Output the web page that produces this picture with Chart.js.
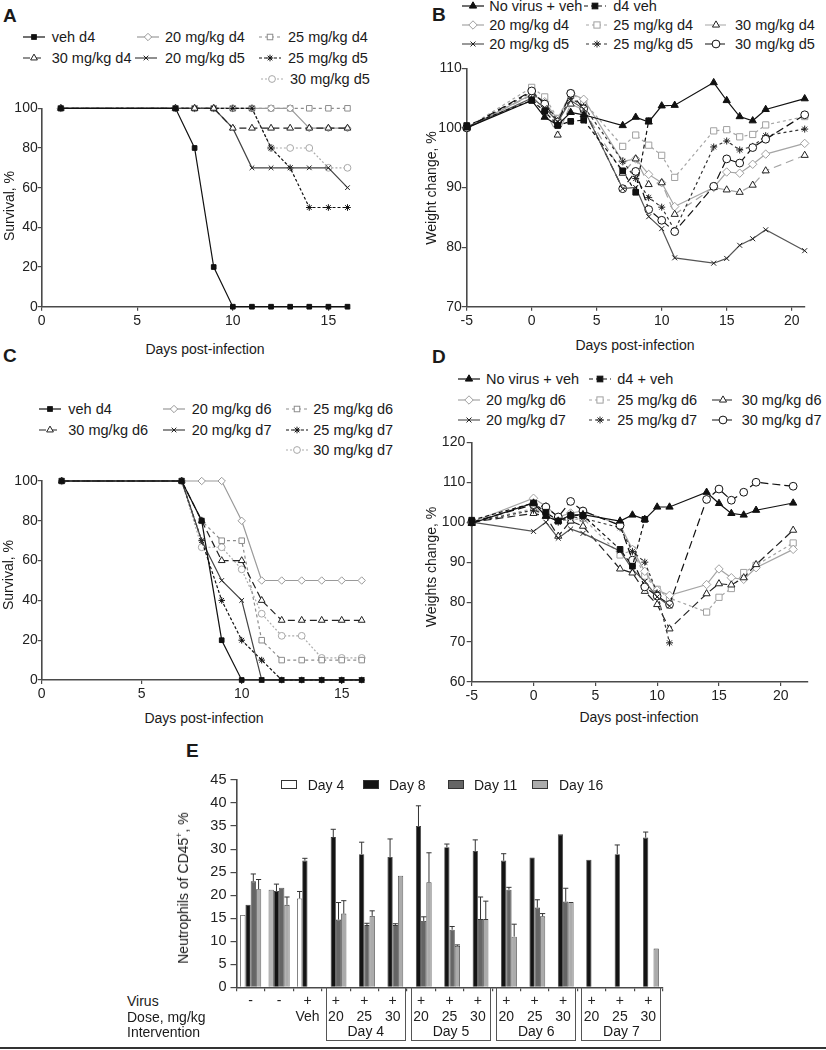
<!DOCTYPE html>
<html><head><meta charset="utf-8">
<script src="https://cdn.jsdelivr.net/npm/chart.js@4.4.1/dist/chart.umd.min.js"></script>
<style>
html,body{margin:0;padding:0;background:#fff}
body{width:826px;height:1050px;position:relative;overflow:hidden;font-family:"Liberation Sans",Arial,Helvetica,sans-serif;color:#1a1a1a}
.abs{position:absolute}
.lbl{position:absolute;white-space:nowrap;font-size:14.5px;line-height:16px;height:16px}
.txt{position:absolute;white-space:nowrap;font-size:14px;line-height:16px;height:16px}
.letter{position:absolute;font-weight:bold;font-size:19px;line-height:19px}
.ytitle{position:absolute;white-space:nowrap;font-size:14px;line-height:16px;transform:translate(-50%,-50%) rotate(-90deg)}
.xtitle{position:absolute;white-space:nowrap;font-size:14px;line-height:16px;transform:translate(-50%,-50%)}
.ibox{position:absolute;border:1.2px solid #555;border-top:none;box-sizing:border-box}
.ibox span{position:absolute;left:0;right:0;bottom:1px;text-align:center;font-size:14px;line-height:16px}
</style></head><body>
<script>
// ================= DATA =================
// Panel A – survival, intervention d4/d5
const daysA = [1,7,8,9,10,11,12,13,14,15,16];
const aVehD4 = [100,100,80,20,0,0,0,0,0,0,0];
const a20d4  = [100,100,100,100,100,100,100,100,90,90,90];
const a25d4  = [100,100,100,100,100,100,100,100,100,100,100];
const a30d4  = [100,100,100,100,90,90,90,90,90,90,90];
const a20d5  = [100,100,100,100,90,70,70,70,70,70,60];
const a25d5  = [100,100,100,100,100,100,80,70,50,50,50];
const a30d5  = [100,100,100,100,100,100,80,80,80,70,70];
const ticksAx = [0,5,10,15];
const ticksAy = [0,20,40,60,80,100];

// Panel B – weight change, intervention d4/d5
const daysB = [-5,0,1,2,3,4,7,8,9,10,11,14,15,16,17,18,21];
const bNoVirus = [100,104.6,101.8,100.5,102.6,102.2,100.4,101.8,101.0,103.7,103.8,107.6,104.6,101.9,101.2,103.1,104.9];
const bD4Veh   = [100.4,104.6,102.8,100.4,101.1,101.3,92.8,89.2,101.2];
const b20d4 = [100,105.6,104.4,101.4,105.8,104.8,94.4,94.8,92.2,90.8,86.8,90.0,92.6,92.4,93.9,95.6,97.4];
const b25d4 = [100,106.8,105.2,101.6,105.8,104.4,96.9,98.8,97.1,95.4,91.7,99.5,99.7,98.5,98.9,100.5,101.9];
const b30d4 = [100,105.5,103.0,98.8,104.0,103.0,92.4,94.8,90.5,90.8,85.5,90.0,89.6,89.2,90.4,92.8,95.4];
const b20d5 = [100,105.0,103.4,101.0,104.6,103.2,89.8,90.0,85.1,83.1,78.2,77.3,78.1,80.3,81.4,82.9,79.4];
const b25d5 = [100,106.0,104.2,101.2,105.0,103.6,94.4,91.5,88.3,86.7,82.8,96.8,97.8,96.3,96.9,98.7,99.8];
const b30d5 = [100,106.2,104.0,101.0,105.8,103.2,89.8,92.7,86.3,84.5,82.6,90.2,94.8,94.1,96.7,98.1,102.2];
const ticksBx = [-5,0,5,10,15,20];
const ticksBy = [70,80,90,100,110];

// Panel C – survival, intervention d6/d7
const daysC = [1,7,8,9,10,11,12,13,14,15,16];
const cVehD4 = [100,100,80,20,0,0,0,0,0,0,0];
const c20d6  = [100,100,100,100,80,50,50,50,50,50,50];
const c25d6  = [100,100,80,70,70,20,10,10,10,10,10];
const c30d6  = [100,100,80,60,60,40,30,30,30,30,30];
const c20d7  = [100,100,70,50,40,0,0,0,0,0,0];
const c25d7  = [100,100,70,40,20,10,0,0,0,0,0];
const c30d7  = [100,100,66.7,66.7,55.6,33.3,22.2,22.2,11.1,11.1,11.1];
const ticksCx = [0,5,10,15];
const ticksCy = [0,20,40,60,80,100];

// Panel D – weight change, intervention d6/d7
const daysD = [-5,0,1,2,3,4,7,8,9,10,11,14,15,16,17,18,21];
const dNoVirus = [99.7,104.8,101.5,100.3,101.8,101.9,100.3,101.8,100.7,103.8,103.8,107.5,104.7,102.2,101.8,103.0,104.8];
const dD4Veh   = [100.5,104.8,102.5,100.3,101.7,101.7,93.2,89.0,100.7];
const d20d6 = [100,106.0,104.0,101.3,102.3,102.8,99.3,93.2,87.7,83.0,81.7,84.4,88.3,86.1,85.7,88.6,93.2];
const d25d6 = [100,103.4,102.2,100.4,100.5,101.0,91.8,93.0,86.5,83.2,81.0,77.5,81.2,83.4,87.4,89.2,94.8];
const d30d6 = [100,102.2,101.5,96.5,100.3,99.0,88.3,87.3,82.7,79.4,73.3,82.1,84.6,84.3,86.1,89.4,98.0];
const d20d7 = [100,97.7,100.0,96.0,98.3,97.2,92.8,88.2,85.2,81.3,79.0];
const d25d7 = [100,103.0,102.0,100.0,101.4,101.0,98.6,92.7,90.0,82.3,69.8];
const d30d7 = [100,104.4,103.8,101.3,105.2,102.8,99.2,90.5,83.8,81.5,79.4,105.7,108.3,105.5,107.5,110.0,109.0];
const ticksDx = [-5,0,5,10,15,20];
const ticksDy = [60,70,80,90,100,110,120];

// Panel E – neutrophils
const eVirus = ['-','-','+','+','+','+','+','+','+','+','+','+','+','+','+'];
const eDose  = ['','','Veh','20','25','30','20','25','30','20','25','30','20','25','30'];
const eDay4  = [15.7,21.2,19.3,null,null,null,null,null,null,null,null,null,null,null,null];
const eDay8  = [17.9,20.9,27.5,32.6,28.9,28.3,35.0,30.4,29.6,27.5,28.2,33.2,27.7,28.9,32.5];
const eDay11 = [23.0,21.6,null,14.7,13.5,13.5,14.4,12.5,14.8,21.2,17.3,18.6,null,null,null];
const eDay16 = [21.3,17.9,null,16.0,15.5,24.2,22.8,9.0,14.8,11.0,15.4,18.5,null,null,8.4];
const eDay4Err  = [0,0,1.5,0,0,0,0,0,0,0,0,0,0,0,0];
const eDay8Err  = [0,1.5,0.5,1.7,2.6,3.9,4.4,0.7,2.4,1.5,0,0,0,2.0,1.2];
const eDay11Err = [1.6,0,0,3.7,0.4,0.3,0.9,0.7,4.8,0.5,1.7,2.9,0,0,0];
const eDay16Err = [2.1,1.7,0,2.8,1.1,0,6.4,0.2,3.9,2.7,0.6,0,0,0,0];
const eInterv = [['Day 4',3,5],['Day 5',6,8],['Day 6',9,11],['Day 7',12,14]];

// ================= STYLES =================
const AX = '#4a4a4a';
Chart.defaults.font.family = '"Liberation Sans", Arial, Helvetica, sans-serif';
Chart.defaults.color = '#222';

const S = {
  vehSq:   {c:'#111', dash:[],    m:'rect',     r:3.3, f:'#111', mc:'#111'},
  g20:     {c:'#9a9a9a', dash:[], m:'rectRot',  r:3.7, f:'#fff', mc:'#999'},
  g25:     {c:'#8c8c8c', dash:[3,3], m:'rect',  r:3.9, f:'#fff', mc:'#8c8c8c'},
  k30tri:  {c:'#222', dash:[7,4], m:'triangle', r:3.9, f:'#fff', mc:'#222'},
  x20:     {c:'#444', dash:[],    m:'crossRot', r:3.3, f:'#fff', mc:'#222'},
  st25:    {c:'#111', dash:[3,2], m:'star',     r:3.3, f:'#fff', mc:'#111'},
  lc30:    {c:'#ababab', dash:[2,2], m:'circle',r:3.4, f:'#fff', mc:'#a8a8a8'},
  noVir:   {c:'#111', dash:[],    m:'triangle', r:4.2, f:'#111', mc:'#111'},
  d4Sq:    {c:'#111', dash:[4,3], m:'rect',     r:4.0, f:'#111', mc:'#111'},
  bg20:    {c:'#a5a5a5', dash:[], m:'rectRot',  r:4.2, f:'#fff', mc:'#a0a0a0'},
  bg25:    {c:'#a5a5a5', dash:[3,3], m:'rect',  r:4.4, f:'#fff', mc:'#a0a0a0'},
  bg30tri: {c:'#a5a5a5', dash:[8,5], m:'triangle', r:4.1, f:'#fff', mc:'#222'},
  bx20:    {c:'#555', dash:[],    m:'crossRot', r:3.5, f:'#fff', mc:'#222'},
  bst25:   {c:'#333', dash:[3,3], m:'star',     r:3.5, f:'#fff', mc:'#222'},
  bc30:    {c:'#111', dash:[8,4], m:'circle',   r:3.9, f:'#fff', mc:'#111'},
  dk30tri: {c:'#222', dash:[8,4], m:'triangle', r:4.1, f:'#fff', mc:'#222'}
};

function place(el,l,t,w,h){el.style.left=l+'px';el.style.top=t+'px';if(w!=null)el.style.width=w+'px';if(h!=null)el.style.height=h+'px';}
function addText(cls,txt,l,t,html){const d=document.createElement('div');d.className=cls;if(html)d.innerHTML=txt;else d.textContent=txt;place(d,l,t);document.body.appendChild(d);return d;}

function ds(label,days,vals,st){
  return {label, data:vals.map((v,i)=>({x:days[i],y:v})), borderColor:st.c, borderDash:st.dash, borderWidth:1.2,
    pointStyle:st.m, pointRadius:st.r, pointBackgroundColor:st.f, pointBorderColor:st.mc, pointBorderWidth:1,
    tension:0, fill:false, clip:false};
}

function lineChart(box,xr,yr,sets){
  const wrap=document.createElement('div');wrap.className='abs';place(wrap,box.l,box.t,box.w,box.h);
  const cv=document.createElement('canvas');wrap.appendChild(cv);document.body.appendChild(wrap);
  return new Chart(cv,{type:'line',data:{datasets:sets},options:{
    responsive:true,maintainAspectRatio:false,animation:false,events:[],
    layout:{padding:{left:0,top:box.pt,right:box.pr,bottom:0}},
    plugins:{legend:{display:false},tooltip:{enabled:false}},
    scales:{
      x:{type:'linear',min:xr.min,max:xr.max,
        afterBuildTicks:s=>{s.ticks=xr.ticks.map(v=>({value:v}));},
        afterFit:s=>{s.height=box.xh;},
        grid:{drawOnChartArea:false,drawTicks:true,tickLength:4,color:AX,lineWidth:1.2},
        border:{display:true,color:AX,width:1.6},
        ticks:{font:{size:14},color:'#222',padding:2,maxRotation:0,autoSkip:false}},
      y:{type:'linear',min:yr.min,max:yr.max,
        afterBuildTicks:s=>{s.ticks=yr.ticks.map(v=>({value:v}));},
        afterFit:s=>{s.width=box.yw;},
        grid:{drawOnChartArea:false,drawTicks:true,tickLength:box.tl,color:AX,lineWidth:1.2},
        border:{display:true,color:AX,width:1.6},
        ticks:{font:{size:14},color:'#222',padding:box.tp,autoSkip:false}}
    }}});
}

function marker(m,cx,cy,r,mc,f){
  const a=`stroke="${mc}" stroke-width="1" fill="${f}"`;
  if(m==='rect'){const s=r*Math.SQRT1_2;return `<rect x="${cx-s}" y="${cy-s}" width="${2*s}" height="${2*s}" ${a}/>`;}
  if(m==='rectRot')return `<polygon points="${cx},${cy-r} ${cx+r},${cy} ${cx},${cy+r} ${cx-r},${cy}" ${a}/>`;
  if(m==='triangle')return `<polygon points="${cx},${cy-r} ${cx+r*0.866},${cy+r*0.5} ${cx-r*0.866},${cy+r*0.5}" ${a}/>`;
  if(m==='circle')return `<circle cx="${cx}" cy="${cy}" r="${r}" ${a}/>`;
  const d=r*Math.SQRT1_2;
  let p=`M${cx-d},${cy-d}L${cx+d},${cy+d}M${cx-d},${cy+d}L${cx+d},${cy-d}`;
  if(m==='star')p+=`M${cx-r},${cy}L${cx+r},${cy}M${cx},${cy-r}L${cx},${cy+r}`;
  return `<path d="${p}" stroke="${mc}" stroke-width="1" fill="none"/>`;
}
function legend(items){
  items.forEach(it=>{
    const st=it.s, w=it.w||22;
    const da=st.dash.length?st.dash.join(','):'none';
    document.body.insertAdjacentHTML('beforeend',
      `<svg class="abs" style="left:${it.x-3}px;top:${it.y-8}px" width="${w+6}" height="16"><line x1="3" y1="8" x2="${3+w}" y2="8" stroke="${st.c}" stroke-width="1.2" stroke-dasharray="${da}"/>${marker(st.m,3+w/2,8,st.r,st.mc,st.f)}</svg>`);
    addText('lbl',it.t,it.tx,it.y-8);
  });
}

// ================= PANEL A =================
lineChart({l:0,t:90,w:362,h:240,yw:41.7,pt:18.3,pr:14.5,xh:23.3,tl:4,tp:0},
  {min:0,max:16,ticks:ticksAx},{min:0,max:100,ticks:ticksAy},[
  ds('veh d4',daysA,aVehD4,S.vehSq),
  ds('30 mg/kg d4',daysA,a30d4,S.k30tri),
  ds('20 mg/kg d5',daysA,a20d5,S.x20),
  ds('25 mg/kg d5',daysA,a25d5,S.st25),
  ds('20 mg/kg d4',daysA,a20d4,S.g20),
  ds('25 mg/kg d4',daysA,a25d4,S.g25),
  ds('30 mg/kg d5',daysA,a30d5,S.lc30)]);
legend([
  {t:'veh d4',s:S.vehSq,x:23,tx:51.7,y:37},
  {t:'20 mg/kg d4',s:S.g20,x:137,tx:165,y:37},
  {t:'25 mg/kg d4',s:S.g25,x:259,tx:288,y:37},
  {t:'30 mg/kg d4',s:S.k30tri,x:23,tx:51.7,y:58},
  {t:'20 mg/kg d5',s:S.x20,x:135,tx:165,y:58},
  {t:'25 mg/kg d5',s:S.st25,x:259,tx:288,y:58},
  {t:'30 mg/kg d5',s:S.lc30,x:261,tx:290,y:79}]);

// ================= PANEL B =================
lineChart({l:420,t:55,w:406,h:275,yw:46.7,pt:13.3,pr:21.3,xh:23.3,tl:5,tp:0},
  {min:-5,max:21,ticks:ticksBx},{min:70,max:110,ticks:ticksBy},[
  ds('No virus + veh',daysB,bNoVirus,S.noVir),
  ds('d4 veh',daysB,bD4Veh,S.d4Sq),
  ds('20 mg/kg d5',daysB,b20d5,S.bx20),
  ds('30 mg/kg d5',daysB,b30d5,S.bc30),
  ds('25 mg/kg d5',daysB,b25d5,S.bst25),
  ds('30 mg/kg d4',daysB,b30d4,S.bg30tri),
  ds('20 mg/kg d4',daysB,b20d4,S.bg20),
  ds('25 mg/kg d4',daysB,b25d4,S.bg25)]);
legend([
  {t:'No virus + veh',s:S.noVir,x:462,tx:489.3,y:6},
  {t:'d4 veh',s:S.d4Sq,x:584,tx:613.3,y:6},
  {t:'20 mg/kg d4',s:S.bg20,x:462,tx:489.3,y:24.5},
  {t:'25 mg/kg d4',s:S.bg25,x:586,tx:613.3,y:24.5},
  {t:'30 mg/kg d4',s:S.bg30tri,x:705,tx:735,y:24.5},
  {t:'20 mg/kg d5',s:S.bx20,x:462,tx:489.3,y:43.5},
  {t:'25 mg/kg d5',s:S.bst25,x:586,tx:613.3,y:43.5},
  {t:'30 mg/kg d5',s:S.bc30,x:705,tx:735,y:43.5}]);

// ================= PANEL C =================
lineChart({l:0,t:465,w:375,h:240,yw:41.7,pt:16,pr:13.3,xh:25,tl:4,tp:0},
  {min:0,max:16,ticks:ticksCx},{min:0,max:100,ticks:ticksCy},[
  ds('veh d4',daysC,cVehD4,S.vehSq),
  ds('30 mg/kg d6',daysC,c30d6,S.k30tri),
  ds('20 mg/kg d7',daysC,c20d7,S.x20),
  ds('25 mg/kg d7',daysC,c25d7,S.st25),
  ds('20 mg/kg d6',daysC,c20d6,S.g20),
  ds('25 mg/kg d6',daysC,c25d6,S.g25),
  ds('30 mg/kg d7',daysC,c30d7,S.lc30)]);
legend([
  {t:'veh d4',s:S.vehSq,x:39.3,tx:68.3,y:409},
  {t:'20 mg/kg d6',s:S.g20,x:163,tx:191.7,y:409},
  {t:'25 mg/kg d6',s:S.g25,x:286,tx:313.3,y:409},
  {t:'30 mg/kg d6',s:S.k30tri,x:39.3,tx:68.3,y:430},
  {t:'20 mg/kg d7',s:S.x20,x:163,tx:191.7,y:430},
  {t:'25 mg/kg d7',s:S.st25,x:286,tx:313.3,y:430},
  {t:'30 mg/kg d7',s:S.lc30,x:286,tx:313.3,y:450}]);

// ================= PANEL D =================
lineChart({l:420,t:430,w:406,h:275,yw:51.7,pt:12.3,pr:18,xh:23,tl:5,tp:1.5},
  {min:-5,max:22.2,ticks:ticksDx},{min:60,max:120,ticks:ticksDy},[
  ds('No virus + veh',daysD,dNoVirus,S.noVir),
  ds('d4 + veh',daysD,dD4Veh,S.d4Sq),
  ds('20 mg/kg d7',daysD,d20d7,S.bx20),
  ds('30 mg/kg d7',daysD,d30d7,S.bc30),
  ds('25 mg/kg d7',daysD,d25d7,S.bst25),
  ds('30 mg/kg d6',daysD,d30d6,S.dk30tri),
  ds('20 mg/kg d6',daysD,d20d6,S.bg20),
  ds('25 mg/kg d6',daysD,d25d6,S.bg25)]);
legend([
  {t:'No virus + veh',s:S.noVir,x:458,tx:486,y:379},
  {t:'d4 + veh',s:S.d4Sq,x:589,tx:617.3,y:379},
  {t:'20 mg/kg d6',s:S.bg20,x:458,tx:486,y:400},
  {t:'25 mg/kg d6',s:S.bg25,x:589,tx:617.3,y:400},
  {t:'30 mg/kg d6',s:S.dk30tri,x:712,tx:741.7,y:400},
  {t:'20 mg/kg d7',s:S.bx20,x:458,tx:486,y:420},
  {t:'25 mg/kg d7',s:S.bst25,x:589,tx:617.3,y:420},
  {t:'30 mg/kg d7',s:S.bc30,x:712,tx:741.7,y:420}]);

// ================= PANEL E =================
const eFill4 = eDay4.map((v,i)=>i===1?'#b8b8b8':'#ffffff');
const errPlugin = {id:'errbars',afterDatasetsDraw(chart){
  const ctx=chart.ctx, ys=chart.scales.y;
  chart.data.datasets.forEach((d,di)=>{
    chart.getDatasetMeta(di).data.forEach((bar,i)=>{
      const v=d.data[i], e=d.err[i];
      if(v==null||!e)return;
      const y0=ys.getPixelForValue(v), y1=ys.getPixelForValue(v+e);
      ctx.save();ctx.strokeStyle='#333';ctx.lineWidth=1;ctx.beginPath();
      ctx.moveTo(bar.x,y0);ctx.lineTo(bar.x,y1);ctx.moveTo(bar.x-2.6,y1);ctx.lineTo(bar.x+2.6,y1);ctx.stroke();ctx.restore();
    });
  });
}};
const EB={l:160,t:765,w:520,h:270};
const wrapE=document.createElement('div');wrapE.className='abs';place(wrapE,EB.l,EB.t,EB.w,EB.h);
const cvE=document.createElement('canvas');wrapE.appendChild(cvE);document.body.appendChild(wrapE);
const barCommon={borderColor:'#3a3a3a',borderWidth:0.8,categoryPercentage:0.74,barPercentage:1.0};
const chartE=new Chart(cvE,{type:'bar',
  data:{labels:eVirus.map((v,i)=>[v,eDose[i]]),datasets:[
    Object.assign({label:'Day 4',data:eDay4,err:eDay4Err,backgroundColor:eFill4},barCommon),
    Object.assign({label:'Day 8',data:eDay8,err:eDay8Err,backgroundColor:'#141414'},barCommon),
    Object.assign({label:'Day 11',data:eDay11,err:eDay11Err,backgroundColor:'#656565'},barCommon),
    Object.assign({label:'Day 16',data:eDay16,err:eDay16Err,backgroundColor:'#ababab'},barCommon)]},
  options:{responsive:true,maintainAspectRatio:false,animation:false,events:[],
    layout:{padding:{left:0,top:15,right:17.5,bottom:0}},
    plugins:{legend:{display:false},tooltip:{enabled:false}},
    scales:{
      x:{afterFit:s=>{s.height=47.7;},
        grid:{offset:true,drawOnChartArea:false,drawTicks:true,tickLength:4,color:AX,lineWidth:1.2},
        border:{display:true,color:AX,width:1.6},
        ticks:{font:{size:14,lineHeight:1.12},color:'#222',padding:2,autoSkip:false,maxRotation:0}},
      y:{min:0,max:45,afterFit:s=>{s.width=76.5;},
        grid:{drawOnChartArea:false,drawTicks:true,tickLength:6,color:AX,lineWidth:1.2},
        border:{display:true,color:AX,width:1.6},
        ticks:{stepSize:5,font:{size:14.5},color:'#222',padding:4}}
    }},plugins:[errPlugin]});

// intervention boxes derived from the category scale
(function(){
  const xs=chartE.scales.x, n=eVirus.length, step=(xs.right-xs.left)/n;
  const top=EB.t+chartE.chartArea.bottom, bottom=1041;
  eInterv.forEach(([t,a,b])=>{
    const l=EB.l+xs.left+a*step+4, r=EB.l+xs.left+(b+1)*step-1;
    const d=document.createElement('div');d.className='ibox';place(d,l,top,r-l,bottom-top);
    const s=document.createElement('span');s.textContent=t;d.appendChild(s);document.body.appendChild(d);
  });
})();
// E legend
[['Day 4',281,307.7,'#fff'],['Day 8',362.7,389,'#141414'],['Day 11',448,474,'#656565'],['Day 16',532,559,'#ababab']].forEach(([t,bx,tx,c])=>{
  const b=document.createElement('div');b.className='abs';place(b,bx,779.5,16,9);b.style.background=c;b.style.border='1px solid #333';b.style.boxSizing='border-box';document.body.appendChild(b);
  addText('txt',t,tx,776.5);
});
addText('txt','Virus',127,993);
addText('txt','Dose, mg/kg',127,1009);
addText('txt','Intervention',127,1024);

// ================= TITLES & LETTERS =================
addText('letter','A',3,6);
addText('letter','B',432,5);
addText('letter','C',3,346);
addText('letter','D',432,347);
addText('letter','E',186,741);
addText('xtitle','Days post-infection',205,349);
addText('xtitle','Days post-infection',635,345);
addText('xtitle','Days post-infection',204,718);
addText('xtitle','Days post-infection',639,717);
addText('ytitle','Survival, %',9,206);
addText('ytitle','Weight change, %',431,188);
addText('ytitle','Survival, %',8,575);
addText('ytitle','Weights change, %',431,567);
addText('ytitle','Neutrophils of CD45<sup style="font-size:9px;line-height:0">+</sup>, %',183,888,true);
const bl=document.createElement('div');bl.className='abs';place(bl,0,1047,826,2);bl.style.background='#333';document.body.appendChild(bl);
</script>
</body></html>
